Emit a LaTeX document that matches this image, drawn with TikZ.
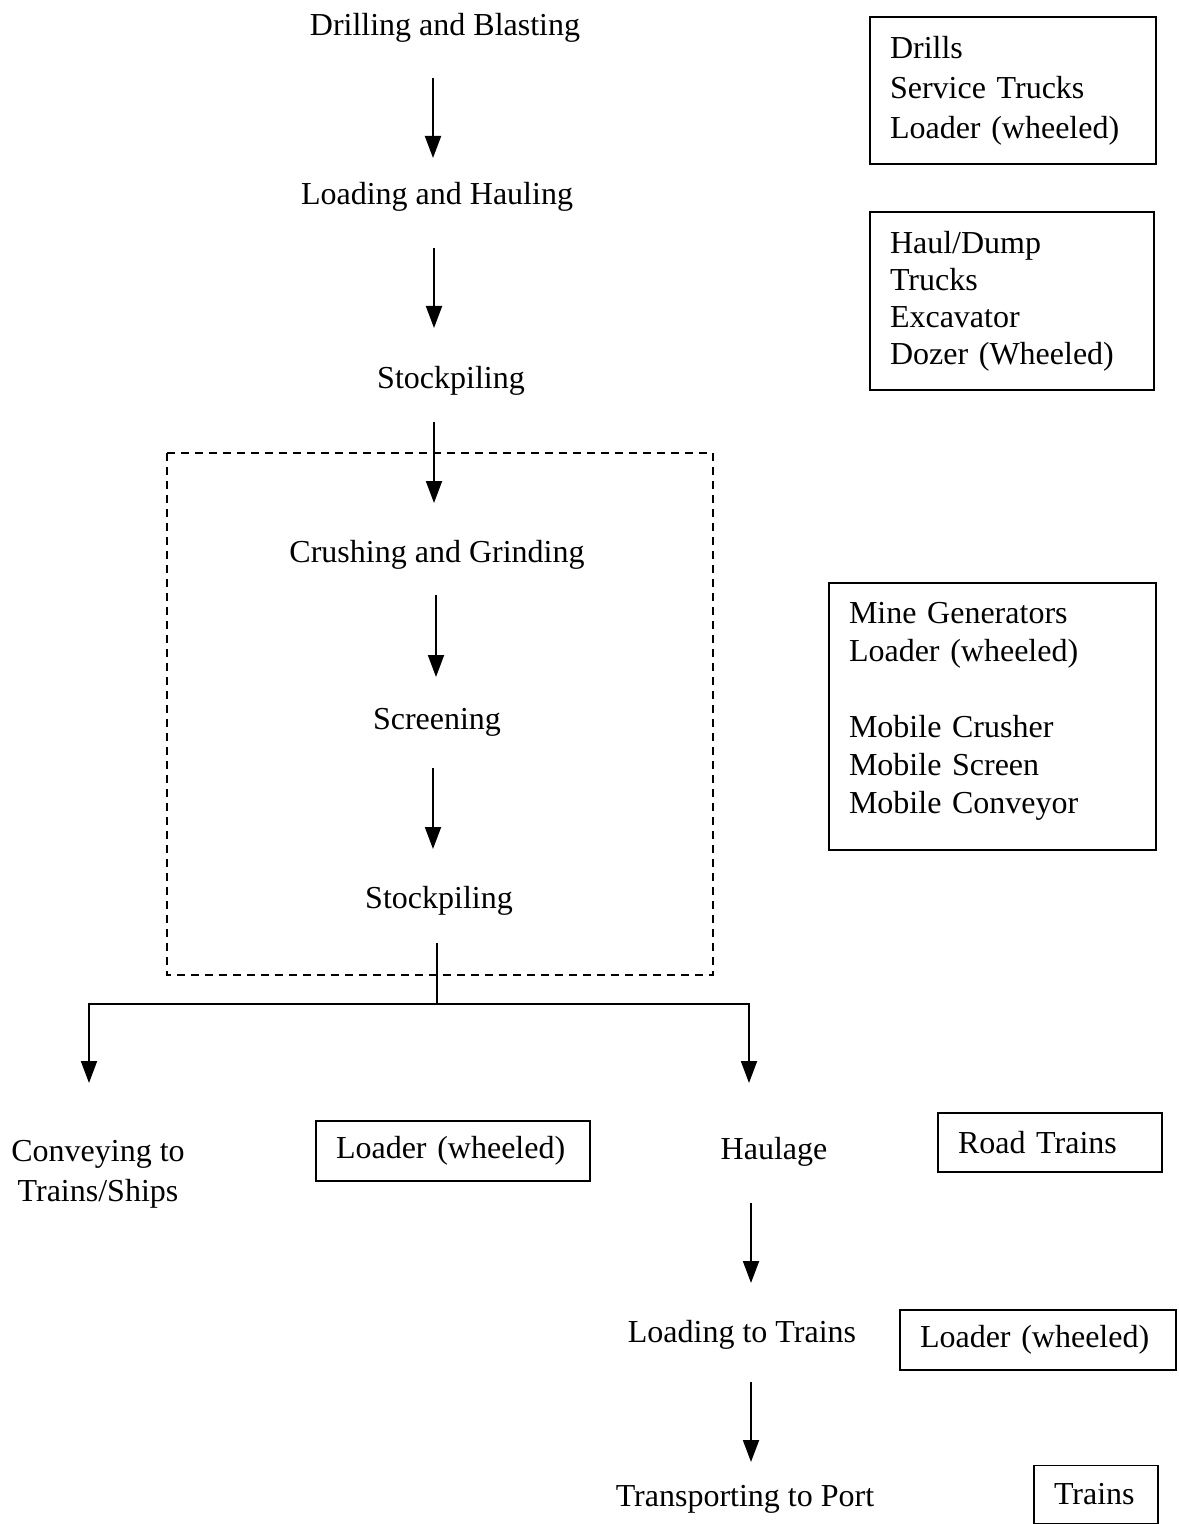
\documentclass[tikz,border=0pt]{standalone}
\usepackage{fontspec}
\setmainfont{Liberation Serif}
\usetikzlibrary{arrows.meta}

\begin{document}
\begin{tikzpicture}[x=0.5pt, y=-0.5pt,
	stage/.style={inner sep=0pt, yshift=-2pt, font=\fontsize{16pt}{20pt}\selectfont},
	equip/.style={draw, line width=0.65pt, inner xsep=10pt, inner ysep=0pt, align=left, font=\fontsize{16pt}{19pt}\selectfont},
	flow/.style={line width=1pt, -{Triangle[length=11pt, width=8pt]}},
	branch/.style={line width=0.6pt}]
	\useasboundingbox (0,0) rectangle (1178,1524);

	% process steps
	\node [stage] (drill) at (445,24) {Drilling and Blasting};
	\node [stage] (load) at (437,193) {Loading and Hauling};
	\node [stage] (stock1) at (451,377) {Stockpiling};
	\node [stage] (crush) at (437,551) {Crushing and Grinding};
	\node [stage] (screen) at (437,718) {Screening};
	\node [stage] (stock2) at (439,897) {Stockpiling};
	\node [stage, align=center] (convey) at (98,1170) {Conveying to\\Trains/Ships};
	\node [stage] (haul) at (774,1148) {Haulage};
	\node [stage] (loadtr) at (742,1331) {Loading to Trains};
	\node [stage] (port) at (745,1495) {Transporting to Port};

	% equipment
	\node [equip, text width=123pt, minimum height=73.5pt, font=\fontsize{16pt}{20pt}\selectfont] (eq1) at (1013,90.5) {Drills\\Service Trucks\\Loader (wheeled)};
	\node [equip, text width=122pt, minimum height=89pt, font=\fontsize{16pt}{18.5pt}\selectfont] (eq2) at (1012,301) {Haul/Dump\\Trucks\\Excavator\\Dozer (Wheeled)};
	\node [equip, text width=143.5pt, minimum height=133.5pt] (eq3) at (992.5,716.5) {Mine Generators\\Loader (wheeled)\\[19pt]Mobile Crusher\\Mobile Screen\\Mobile Conveyor\\[-10pt]\mbox{}};
	\node [equip, text width=117pt, minimum height=30pt] (eq4) at (453,1151) {Loader (wheeled)};
	\node [equip, text width=92pt, minimum height=29.5pt] (eq5) at (1050,1142.5) {Road Trains};
	\node [equip, text width=118pt, minimum height=30pt] (eq6) at (1038,1340) {Loader (wheeled)};
	\node [equip, text width=42pt, minimum height=29pt] (eq7) at (1096,1494.5) {Trains};

	% processing plant
	\draw [line width=0.75pt, dash pattern=on 4pt off 3pt] (167,453) rectangle (713,975);

	\draw [flow] ([shift={(-12,50)}]drill.center) -- ([shift={(-4,-39)}]load.center);
	\draw [flow] ([shift={(-3,51)}]load.center) -- ([shift={(-17,-53)}]stock1.center);
	\draw [flow] ([shift={(-17,41)}]stock1.center) -- ([shift={(-3,-52)}]crush.center);
	\draw [flow] ([shift={(-1,40)}]crush.center) -- ([shift={(-1,-45)}]screen.center);
	\draw [flow] ([shift={(-4,46)}]screen.center) -- ([shift={(-6,-52)}]stock2.center);

	% split
	\coordinate (split) at (437,1004);
	\coordinate (lft) at (89,1004);
	\coordinate (rgt) at (749,1004);
	\draw [branch] ([shift={(-2,42)}]stock2.center) -- (split);
	\draw [line width=0.75pt] ([xshift=-0.5pt]lft) -- ([xshift=0.5pt]rgt);
	\draw [flow] (lft) -- ([shift={(-9,-91)}]convey.center);
	\draw [flow] (rgt) -- ([shift={(-25,-69)}]haul.center);

	\draw [flow] ([shift={(-23,51)}]haul.center) -- ([shift={(9,-52)}]loadtr.center);
	\draw [flow] ([shift={(9,47)}]loadtr.center) -- ([shift={(6,-37)}]port.center);
\end{tikzpicture}
\end{document}
